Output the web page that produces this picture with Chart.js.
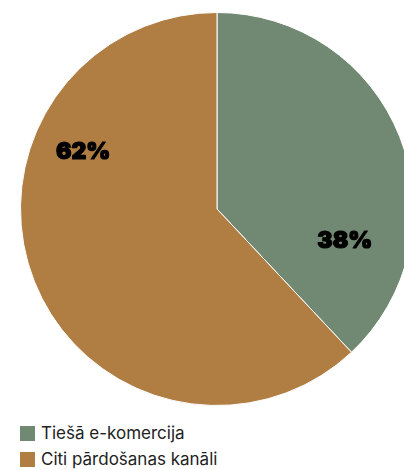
<!DOCTYPE html>
<html><head><meta charset="utf-8">
<script src="https://cdn.jsdelivr.net/npm/chart.js@4"></script>
<style>
html,body{margin:0;padding:0;background:#fff;overflow:hidden;width:404px;height:470px;}
#wrap{position:absolute;left:0;top:0;width:434px;height:412px;}
#legend{position:absolute;left:20px;top:420px;font-family:Inter,"Open Sans",sans-serif;font-size:17px;color:#222;}
.item{display:flex;align-items:center;height:26px;}
.box{width:15px;height:15px;margin-right:6px;}
</style></head>
<body>
<div id="wrap"><canvas id="c" width="434" height="412"></canvas></div>
<div id="legend"></div>
<script>
const categories = ["Tiešā e-komercija", "Citi pārdošanas kanāli"];
const values = [38, 62];
const colors = ["#718872", "#b07d42"];
const labelTexts = ["38%", "62%"];
// label placement (angle in degrees clockwise from top, fraction of radius)
const labelAngles = [104, 293];
const labelRadii = [0.67, 0.74];

const labelPlugin = {
  id: 'pieLabels',
  afterDatasetsDraw(chart) {
    const ctx = chart.ctx;
    const meta = chart.getDatasetMeta(0);
    ctx.save();
    ctx.font = '900 23px Inter, "DejaVu Sans", sans-serif';
    ctx.fillStyle = '#000';
    ctx.strokeStyle = '#000';
    ctx.lineWidth = 1.2;
    ctx.lineJoin = 'round';
    ctx.textAlign = 'center';
    ctx.textBaseline = 'middle';
    meta.data.forEach((arc, i) => {
      const a = labelAngles[i] * Math.PI / 180;
      const r = arc.outerRadius * labelRadii[i];
      const x = arc.x + r * Math.sin(a), y = arc.y - r * Math.cos(a);
      ctx.strokeText(labelTexts[i], x, y);
      ctx.fillText(labelTexts[i], x, y);
    });
    ctx.restore();
  }
};

new Chart(document.getElementById('c'), {
  type: 'pie',
  data: { labels: categories, datasets: [{ data: values, backgroundColor: colors, borderColor: '#ffffff', borderWidth: 1 }] },
  options: {
    responsive: false, animation: false,
    layout: { padding: { left: 20, right: 20, top: 12, bottom: 6 } },
    plugins: { legend: { display: false }, tooltip: { enabled: false } }
  },
  plugins: [labelPlugin]
});

const lg = document.getElementById('legend');
categories.forEach((c, i) => {
  const d = document.createElement('div'); d.className = 'item';
  const b = document.createElement('span'); b.className = 'box'; b.style.background = colors[i];
  const t = document.createElement('span'); t.textContent = c;
  d.appendChild(b); d.appendChild(t); lg.appendChild(d);
});
</script>
</body></html>
